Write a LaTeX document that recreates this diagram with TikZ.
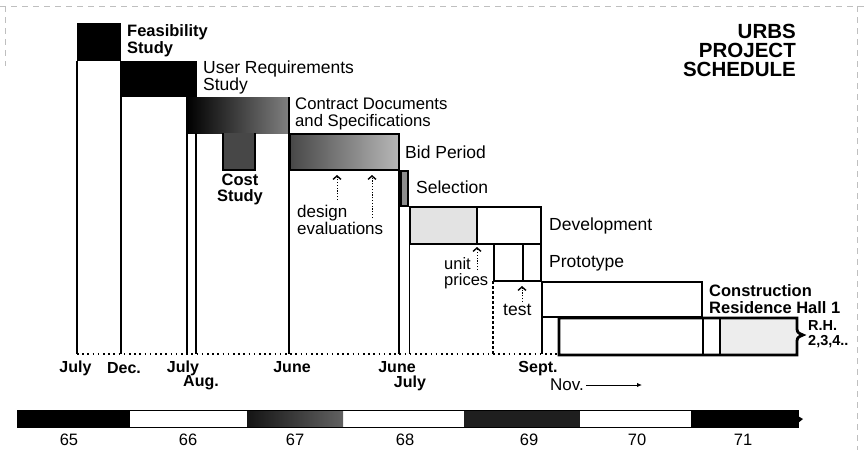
\documentclass[tikz,border=0pt]{standalone}
\usepackage{fontspec}
\setmainfont{Liberation Sans}
\usetikzlibrary{arrows.meta}
\begin{document}
\begin{tikzpicture}[x=1pt,y=-1pt,
  colline/.style={line width=1.5pt},
  boxline/.style={line width=2.8pt, line join=miter},
  divline/.style={line width=1.8pt},
  lab/.style={font=\fontsize{17.5}{17}\selectfont, inner sep=0pt, align=left, anchor=west},
  blab/.style={font=\fontsize{16.5}{17}\selectfont\bfseries, inner sep=0pt, align=left, anchor=west},
  mon/.style={font=\fontsize{16}{16}\selectfont\bfseries, inner sep=0pt},
  yr/.style={font=\fontsize{16.5}{16}\selectfont, inner sep=0pt},
  evarrow/.style={dash pattern=on 1.2pt off 1.6pt, line width=0.9pt, -{Straight Barb[length=3.5pt,width=8pt,line width=1.4pt]}},
  framel/.style={gray!50, dash pattern=on 6pt off 5pt, line width=0.7pt},
]
\useasboundingbox (0,0) rectangle (864,450);
\fill[white] (0,0) rectangle (864,450);

% faint frame of the scan
\draw[framel] (0,6) -- (864,6);
\draw[framel] (5,6) -- (5,66);
\draw[framel] (857,6) -- (857,450);

% ---- filled phase boxes ----
\fill[black] (77,23) rectangle (121,61);
\fill[black] (121,61) rectangle (197,97);
\shade[left color=black, middle color=black!85, right color=black!50] (187,97) rectangle (289,133);
\draw[line width=1.2pt] (289,97) -- (289,133);
\fill[black!72] (223,133) rectangle (255,170);
\draw[line width=1.2pt] (223,133) -- (223,170) -- (255,170) -- (255,133);

% ---- white columns ----
\draw[colline] (77,61) -- (77,354);
\draw[colline] (121,61) -- (121,354);
\draw[colline] (187,97) -- (187,354);
\draw[colline] (196,133) -- (196,354);
\draw[colline] (289,133) -- (289,354);
\draw[colline] (399,170) -- (399,354);
\draw[colline] (409.5,206) -- (409.5,354);
\draw[colline, dash pattern=on 3pt off 2pt] (493,281) -- (493,354);
\draw[colline] (542,281) -- (542,354);

% dotted time base
\draw[line width=1.6pt, dash pattern=on 1.6pt off 3.6pt] (77,354) -- (559,354);

% ---- outlined phase boxes ----
\shade[left color=black!72, right color=black!28] (290,134) rectangle (399,170);
\draw[boxline] (290,134) rectangle (399,170);
\draw[boxline, fill=black!45] (400.5,171) rectangle (408,206);
\fill[black!11] (410,207) rectangle (477,244);
\draw[boxline] (410,207) rectangle (541,244);
\draw[divline] (477,207) -- (477,244);
\draw[boxline] (494,244) rectangle (541,281);
\draw[divline] (523,244) -- (523,281);
\draw[boxline] (542,282) rectangle (702,317);
\fill[black!7] (720,318) rectangle (797,355);
\draw[boxline] (559,318) -- (797,318) -- (797,329)
  .. controls (797,333) and (800,334) .. (803,335)
  .. controls (800,336) and (797,337) .. (797,341)
  -- (797,355) -- (559,355) -- cycle;
\draw[divline] (703,318) -- (703,355);
\draw[divline] (720,318) -- (720,355);

% ---- labels ----
\node[blab] (feas) at (127,40.5) {Feasibility\\Study};
\node[lab] (ureq) at (203,77.5) {User Requirements\\Study};
\node[lab, font=\fontsize{16.7}{17}\selectfont] (contract) at (295,113.5) {Contract Documents\\and Specifications};
\node[lab] (bid) at (405,152) {Bid Period};
\node[lab] (sel) at (416,187) {Selection};
\node[lab] (dev) at (549,226) {Development};
\node[lab] (proto) at (549,263) {Prototype};
\node[blab] (constr) at (709,299) {Construction\\Residence Hall 1};
\node[font=\fontsize{14.5}{14.5}\selectfont\bfseries, inner sep=0pt, align=left, anchor=west] (rh) at (808,334) {R.H.\\2,3,4..};
\node[font=\fontsize{16.5}{15.5}\selectfont\bfseries, inner sep=0pt, align=center] (cost) at (240,189.5) {Cost\\Study};
\node[lab, font=\fontsize{17}{16.5}\selectfont] (design) at (297,220) {design\\evaluations};
\node[lab, font=\fontsize{16.5}{16}\selectfont] (unit) at (444,273.5) {unit\\prices};
\node[lab] (test) at (503,310) {test};

\node[font=\fontsize{20.5}{19}\selectfont\bfseries, inner sep=0pt, align=right, anchor=east] (title) at (796,50.5) {URBS\\PROJECT\\SCHEDULE};

% ---- small evaluation arrows ----
\coordinate (e1b) at (337,200); \coordinate (e1t) at (337,175);
\coordinate (e2b) at (372,218); \coordinate (e2t) at (372,175);
\coordinate (u1b) at (477,270); \coordinate (u1t) at (477,247);
\coordinate (t1b) at (522,302); \coordinate (t1t) at (522,286);
\draw[evarrow] (e1b) -- (e1t);
\draw[evarrow] (e2b) -- (e2t);
\draw[evarrow] (u1b) -- (u1t);
\draw[evarrow] (t1b) -- (t1t);

% ---- month labels ----
\node[mon] (m1) at (75.5,368) {July};
\node[mon] (m2) at (124,368) {Dec.};
\node[mon] (m3) at (183,368) {July};
\node[mon] (m4) at (201,383) {Aug.};
\node[mon] (m5) at (292,367) {June};
\node[mon] (m6) at (397,367) {June};
\node[mon] (m7) at (410,383) {July};
\node[mon] (m8) at (538,369) {Sept.};
\node[font=\fontsize{17}{17}\selectfont, inner sep=0pt, anchor=west] (m9) at (550,385) {Nov.};
\coordinate (novend) at (642,385);
\draw[line width=1pt, -{Latex[length=5pt,width=4.5pt]}] (m9.east) ++(2,0) -- (novend);

% ---- year bar ----
\fill[black] (17,410) rectangle (130,427);
\shade[left color=black!92, right color=black!62] (247,410) rectangle (343,427);
\fill[black!88] (464,410) rectangle (580,427);
\fill[black] (691,410) rectangle (798,427);
\fill[black] (798,416) -- (803,419) -- (798,423) -- cycle;
\draw[line width=0.8pt] (17,410) rectangle (798,427);

\node[yr] (y65) at (69,440) {65};
\node[yr] (y66) at (188,440) {66};
\node[yr] (y67) at (295,440) {67};
\node[yr] (y68) at (405,440) {68};
\node[yr] (y69) at (529,440) {69};
\node[yr] (y70) at (637,440) {70};
\node[yr] (y71) at (743,440) {71};
\end{tikzpicture}
\end{document}
